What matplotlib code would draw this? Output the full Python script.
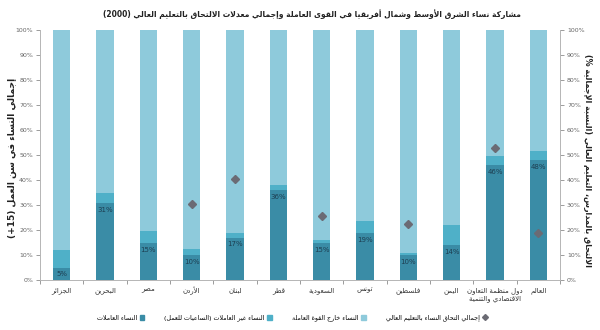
import re
import numpy as np
import matplotlib
matplotlib.use("Agg")
import matplotlib.pyplot as plt
from matplotlib.patches import Patch
from matplotlib.lines import Line2D

plt.rcParams['font.family'] = ['DejaVu Sans']

# ---- Arabic shaping + simple RTL ordering (matplotlib has no bidi support) ----
_FORMS = {
    'ء': (0xFE80, 1), 'آ': (0xFE81, 2), 'أ': (0xFE83, 2), 'ؤ': (0xFE85, 2),
    'إ': (0xFE87, 2), 'ئ': (0xFE89, 4), 'ا': (0xFE8D, 2), 'ب': (0xFE8F, 4),
    'ة': (0xFE93, 2), 'ت': (0xFE95, 4), 'ث': (0xFE99, 4), 'ج': (0xFE9D, 4),
    'ح': (0xFEA1, 4), 'خ': (0xFEA5, 4), 'د': (0xFEA9, 2), 'ذ': (0xFEAB, 2),
    'ر': (0xFEAD, 2), 'ز': (0xFEAF, 2), 'س': (0xFEB1, 4), 'ش': (0xFEB5, 4),
    'ص': (0xFEB9, 4), 'ض': (0xFEBD, 4), 'ط': (0xFEC1, 4), 'ظ': (0xFEC5, 4),
    'ع': (0xFEC9, 4), 'غ': (0xFECD, 4), 'ف': (0xFED1, 4), 'ق': (0xFED5, 4),
    'ك': (0xFED9, 4), 'ل': (0xFEDD, 4), 'م': (0xFEE1, 4), 'ن': (0xFEE5, 4),
    'ه': (0xFEE9, 4), 'و': (0xFEED, 2), 'ى': (0xFEEF, 2), 'ي': (0xFEF1, 4),
}
_LAM_ALEF = {'آ': 0xFEF5, 'أ': 0xFEF7, 'إ': 0xFEF9, 'ا': 0xFEFB}
_MIRROR = {'(': ')', ')': '('}


def _shape(s):
    out, i, n = [], 0, len(s)
    while i < n:
        c = s[i]
        if c not in _FORMS:
            out.append(c)
            i += 1
            continue
        prev = s[i - 1] if i > 0 else ''
        joins_prev = prev in _FORMS and _FORMS[prev][1] == 4
        if c == 'ل' and i + 1 < n and s[i + 1] in _LAM_ALEF:
            out.append(chr(_LAM_ALEF[s[i + 1]] + (1 if joins_prev else 0)))
            i += 2
            continue
        base, nf = _FORMS[c]
        nxt = s[i + 1] if i + 1 < n else ''
        joins_next = nf == 4 and nxt in _FORMS
        if nf == 1:
            code = base
        elif joins_prev and joins_next:
            code = base + 3
        elif joins_prev:
            code = base + 1
        elif joins_next:
            code = base + 2
        else:
            code = base
        out.append(chr(code))
        i += 1
    return ''.join(out)


def ar(s):
    lines = []
    for line in s.split('\n'):
        runs = re.findall(r'[0-9A-Za-z.]+|[^0-9A-Za-z.]+', _shape(line))
        parts = []
        for r in reversed(runs):
            if re.match(r'[0-9A-Za-z]', r):
                parts.append(r)
            else:
                parts.append(''.join(_MIRROR.get(ch, ch) for ch in reversed(r)))
        lines.append(''.join(parts))
    return '\n'.join(lines)


# ---- data ----
countries = ["الجزائر", "البحرين", "مصر", "الأردن", "لبنان", "قطر", "السعودية",
             "تونس", "فلسطين", "اليمن", "دول منظمة التعاون\nالاقتصادي والتنمية", "العالم"]
employed = [5, 31, 15, 10, 17, 36, 15, 19, 10, 14, 46, 48]
seeking = [7, 4, 4.5, 2.5, 2, 2, 1, 4.5, 1, 8, 3.5, 3.5]
outside = [88, 65, 80.5, 87.5, 81, 62, 84, 76.5, 89, 78, 50.5, 48.5]
enrollment = [np.nan, np.nan, np.nan, 30.5, 40.5, np.nan, 25.5, np.nan, 22.5, np.nan, 53, 19]
yticks = list(range(0, 101, 10))

c_emp = '#3a8ca6'
c_seek = '#4fb0c8'
c_out = '#8ecadb'
c_dot = '#6b6b74'
grey = '#8c8c8c'

fig = plt.figure(figsize=(6, 3.3), dpi=100)
ax = fig.add_axes([40 / 600, 1 - 280 / 330, 520 / 600, 250 / 330])
x = np.arange(len(countries))
w = 0.4
emp = np.array(employed)
seek = np.array(seeking)
ax.bar(x, emp, w, color=c_emp, zorder=2)
ax.bar(x, seek, w, bottom=emp, color=c_seek, zorder=2)
ax.bar(x, outside, w, bottom=emp + seek, color=c_out, zorder=2)

for xi, v in zip(x, employed):
    ax.text(xi, v - 1.6, f"{v}%", ha='center', va='top', fontsize=5,
            color='#1d3f52', zorder=3)

ax.set_xlim(-0.5, len(countries) - 0.5)
ax.set_ylim(0, 100)
ax.set_yticks(yticks)
ax.set_yticklabels([f"{t}%" for t in yticks])
ax.set_xticks(x)
ax.set_xticklabels([ar(c) for c in countries], fontsize=5, color='#333333')
ax.set_xticks(np.arange(-0.5, len(countries), 1), minor=True)
ax.tick_params(axis='x', which='major', length=0, pad=5)
ax.tick_params(axis='x', which='minor', length=3, color=grey, width=0.6)
ax.tick_params(axis='y', labelsize=4.5, labelcolor='#666666', length=3,
               color=grey, width=0.6, pad=2)
for s in ['top', 'right']:
    ax.spines[s].set_visible(False)
for s in ['left', 'bottom']:
    ax.spines[s].set_color('#b5b5b5')
    ax.spines[s].set_linewidth(0.7)

ax2 = ax.twinx()
ax2.plot(x, enrollment, 'D', color=c_dot, markersize=4, linestyle='none', zorder=4)
ax2.set_ylim(0, 100)
ax2.set_yticks(yticks)
ax2.set_yticklabels([f"{t}%" for t in yticks])
ax2.tick_params(axis='y', labelsize=4.5, labelcolor='#666666', length=3,
                color=grey, width=0.6, pad=2)
for s in ['top', 'left', 'bottom']:
    ax2.spines[s].set_visible(False)
ax2.spines['right'].set_color('#b5b5b5')
ax2.spines['right'].set_linewidth(0.7)

fig.text(312 / 600, 1 - 14 / 330,
         ar("مشاركة نساء الشرق الأوسط وشمال أفريقيا في القوى العاملة وإجمالي معدلات الالتحاق بالتعليم العالي (2000)"),
         ha='center', va='center', fontsize=6, fontweight='bold',
         fontstretch='condensed', color='#222222')
fig.text(12 / 600, 1 - 158 / 330, ar("إجمالي النساء في سن العمل (15+)"),
         rotation=90, ha='center', va='center', fontsize=6.5, fontweight='bold',
         color='#222222')
fig.text(588 / 600, 1 - 160 / 330,
         ar("الالتحاق بالمدارس، التعليم العالي (النسبة الإجمالية %)"),
         rotation=270, ha='center', va='center', fontsize=5.8, fontweight='bold',
         color='#222222')

handles = [
    Patch(color=c_emp, label=ar("النساء العاملات")),
    Patch(color=c_seek, label=ar("النساء غير العاملات (الساعيات للعمل)")),
    Patch(color=c_out, label=ar("النساء خارج القوة العاملة")),
    Line2D([], [], marker='D', color=c_dot, linestyle='none', markersize=3,
           label=ar("إجمالي التحاق النساء بالتعليم العالي")),
]
fig.legend(handles=handles, loc='center', ncol=4, frameon=False,
           bbox_to_anchor=(292 / 600, 1 - 318 / 330), fontsize=4.6,
           handlelength=0.7, handleheight=0.7, columnspacing=3.2,
           handletextpad=0.4, markerfirst=False)

fig.savefig("out.png", dpi=100, facecolor='white')
